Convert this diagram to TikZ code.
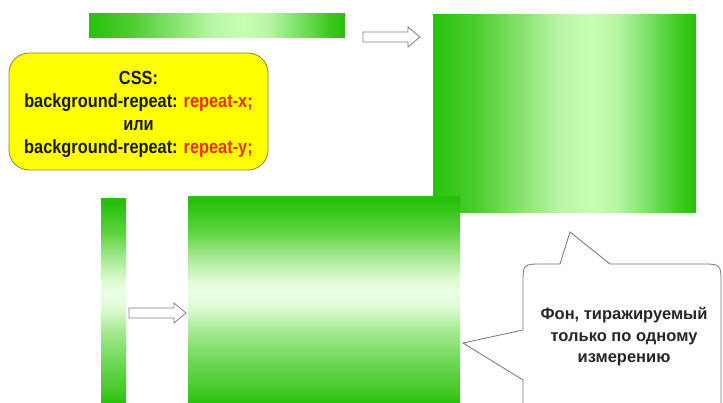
\documentclass[tikz,border=0pt]{standalone}
\usepackage{fontspec}
\setmainfont{Liberation Sans}
\newfontfamily\narrowfont[FakeStretch=0.86]{Liberation Sans}

\definecolor{gdark}{RGB}{40,192,12}
\definecolor{gh1}{RGB}{75,205,45}
\definecolor{gh2}{RGB}{130,225,105}
\definecolor{gh3}{RGB}{185,245,165}
\definecolor{gh4}{RGB}{198,255,178}
\definecolor{gh5}{RGB}{120,225,100}
\definecolor{gh6}{RGB}{60,200,30}
\definecolor{gv1}{RGB}{70,200,40}
\definecolor{gv2}{RGB}{110,215,85}
\definecolor{gv3}{RGB}{160,232,140}
\definecolor{gv4}{RGB}{235,255,230}
\definecolor{gv5}{RGB}{220,250,210}
\definecolor{gv6}{RGB}{90,210,60}
\definecolor{cssyellow}{RGB}{255,255,0}
\definecolor{cssedge}{RGB}{140,130,60}
\definecolor{cssred}{RGB}{235,45,0}

% left -> right: peak a bit right of the middle
\pgfdeclarehorizontalshading{bandh}{100bp}{color(0bp)=(gdark); color(25bp)=(gdark);
  color(33bp)=(gh1); color(41bp)=(gh2); color(49bp)=(gh3); color(55bp)=(gh4);
  color(60bp)=(gh3); color(66bp)=(gh5); color(72bp)=(gh6); color(75bp)=(gdark); color(100bp)=(gdark)}
% bottom -> top: peak a bit above the middle
\pgfdeclareverticalshading{bandv}{100bp}{color(0bp)=(gdark); color(25bp)=(gdark);
  color(28bp)=(gv1); color(35bp)=(gv2); color(42bp)=(gv3); color(48bp)=(gv5); color(52bp)=(gv4);
  color(55bp)=(gv5); color(61bp)=(gv3); color(67bp)=(gv6); color(74bp)=(gdark); color(100bp)=(gdark)}

\begin{document}
\begin{tikzpicture}[x=1pt,y=-1pt,
  hollow/.style={draw=black!50, fill=white, line width=0.8pt},
  cssbox/.style={draw=cssedge, fill=cssyellow, line width=0.8pt, rounded corners=20pt,
    minimum width=259pt, minimum height=117pt, inner sep=0pt},
  csstext/.style={align=center, font=\narrowfont\bfseries\fontsize{19}{23}\selectfont, text=black!90},
  bubble/.style={draw=black!55, fill=white, line width=0.8pt},
  bubbletext/.style={align=center, font=\bfseries\fontsize{16.5}{21.5}\selectfont, text=black!85}]
  \useasboundingbox (0,0) rectangle (723,403);
  \clip (0,0) rectangle (723,403);
  %
  \shade[shading=bandh] (89,14) rectangle (345,38);
  \shade[shading=bandh] (433,15) rectangle (696,213);
  \shade[shading=bandv] (101,199) rectangle (126,403);
  \shade[shading=bandv] (188,197) rectangle (460,403);
  %
  \foreach \ax/\ay in {363/37, 129/313} {
    \draw[hollow] (\ax,\ay-5) -- ++(45,0) -- ++(0,-5) -- ++(12,10) -- ++(-12,10)
      -- ++(0,-5) -- ++(-45,0) -- cycle;
  }
  %
  \node[cssbox] (cssbox) at (138.5,111.5) {};
  \node[csstext] (csstext) at (cssbox.center) [yshift=-3pt]
    {CSS:\\background-repeat: \textcolor{cssred}{repeat-x;}\\или\\background-repeat: \textcolor{cssred}{repeat-y;}};
  %
  \draw[bubble] (523,330) -- (523,284) .. controls (523,264) .. (543,264) -- (560,264) -- (570,232)
    -- (610,264) -- (701,264) .. controls (721,264) .. (721,284) -- (721,430) -- (523,430)
    -- (523,380) -- (463,343) -- cycle;
  \node[bubbletext] (bubbletext) at (624,337) {Фон, тиражируемый\\только по одному\\измерению};
\end{tikzpicture}
\end{document}
